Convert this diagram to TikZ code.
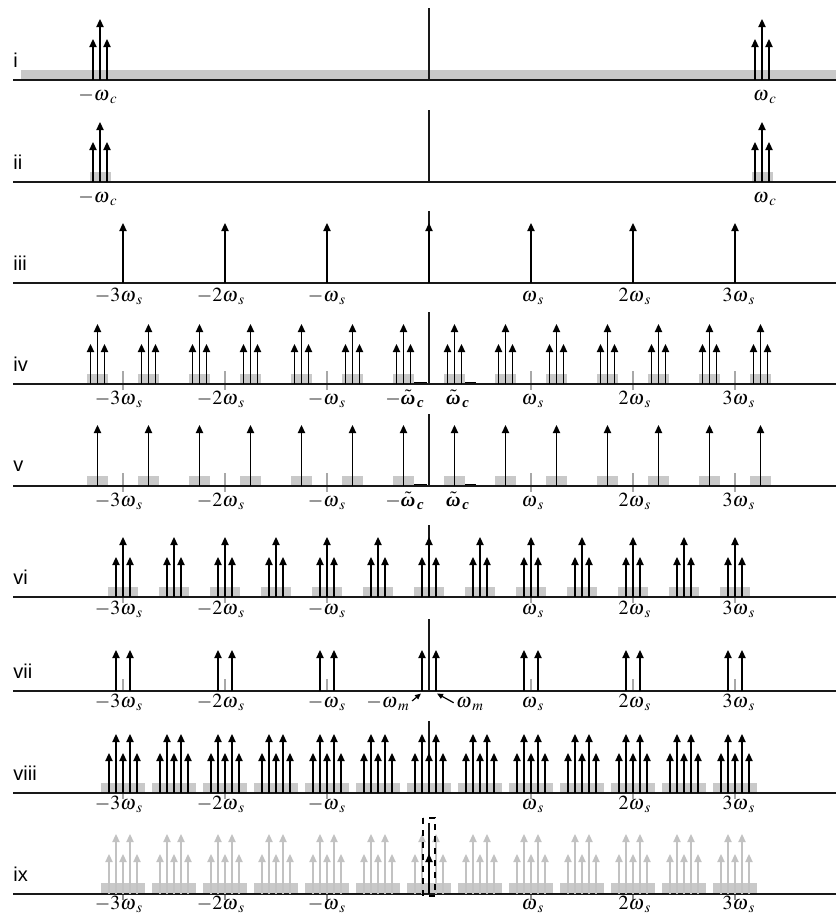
\documentclass[tikz,border=0pt]{standalone}
\usepackage{amsmath}
\usepackage{mathptmx}
\usepackage[no-math]{fontspec}
\newfontfamily\rowfont{Liberation Sans}
\newfontfamily\boldgreek{Liberation Serif}
\newcommand{\bgk}[1]{\text{\boldgreek\bfseries\itshape #1}}
\newcommand{\wsub}[1]{\omega_{\mkern3mu #1}}
\newcommand{\wtc}{\tilde{\vphantom{t}\bgk{ω}}_{\mkern2mu\bgk{c}}}
\usetikzlibrary{arrows.meta}
\definecolor{bandgray}{gray}{0.79}
\definecolor{tickgray}{gray}{0.66}
\definecolor{ghostgray}{gray}{0.76}

\begin{document}
\begin{tikzpicture}[
  x=0.5pt, y=-0.5pt,
  axisline/.style={line width=1pt, draw=black!90},
  centreline/.style={line width=1pt, draw=black!90},
  band/.style={fill=bandgray},
  tickmark/.style={draw=tickgray, line width=0.7pt},
  spike/.style={-{Triangle[length=4pt,width=3.6pt]}, line width=0.75pt},
  ghost/.style={spike, draw=ghostgray},
  pointer/.style={-{Triangle[length=3pt,width=2.6pt]}, line width=0.6pt},
  rowlbl/.style={anchor=west, inner sep=0pt, font=\rowfont\fontsize{10}{12}\selectfont},
  freqlbl/.style={anchor=base, inner sep=0pt, font=\fontsize{10}{12}\selectfont}
]
  \useasboundingbox (0,0) rectangle (836,922);

  % Row labels
  \foreach \ay/\rn in {80/i, 182/ii, 283/iii, 384/iv, 486/v, 597/vi, 691/vii, 793/viii, 894/ix}
    \node[rowlbl] (row-\rn) at (13,\ay-20) {\rn};

  % i: broadband spectrum around -wc and wc
  \fill[band] (21,70) rectangle (836,80);
  \draw[axisline] (13,80) -- (836,80);
  \draw[centreline] (429,8) -- (429,80);
  \foreach \c in {100,762} {
    \draw[spike] (\c,80) -- (\c,19);
    \draw[spike] (\c-7,80) -- (\c-7,39);
    \draw[spike] (\c+7,80) -- (\c+7,39);
  }
  \node[freqlbl] (wc-i-m) at (98,100) {$-\wsub{c}$};
  \node[freqlbl] (wc-i-p) at (765,100) {$\wsub{c}$};

  % ii: band limited
  \foreach \c in {100,762} \fill[band] (\c-10.5,172) rectangle (\c+10.5,182);
  \draw[axisline] (13,182) -- (836,182);
  \draw[centreline] (429,110) -- (429,182);
  \foreach \c in {100,762} {
    \draw[spike] (\c,182) -- (\c,122);
    \draw[spike] (\c-7,182) -- (\c-7,142);
    \draw[spike] (\c+7,182) -- (\c+7,142);
  }
  \node[freqlbl] (wc-ii-m) at (98,202) {$-\wsub{c}$};
  \node[freqlbl] (wc-ii-p) at (765,202) {$\wsub{c}$};

  % iii: sampling impulses
  \draw[axisline] (13,283) -- (836,283);
  \draw[centreline] (429,211) -- (429,283);
  \foreach \k in {-3,...,3}
    \draw[spike] (429+102*\k,283) -- (429+102*\k,223);

  % iv: sampled bandpass spectrum
  \foreach \k in {-3,...,3} \foreach \s in {-25.5,25.5}
    \fill[band] (429+102*\k+\s-10.5,374) rectangle (429+102*\k+\s+10.5,384);
  \foreach \k in {-3,-2,-1,1,2,3}
    \draw[tickmark] (429+102*\k,371) -- (429+102*\k,390);
  \draw[axisline] (13,384) -- (836,384);
  \draw[line width=0.5pt] (414,382.3) -- (427,382.3) (465,382.3) -- (476,382.3);
  \draw[centreline] (429,312) -- (429,384);
  \foreach \k in {-3,...,3} \foreach \s in {-25.5,25.5} {
    \pgfmathsetmacro\c{429+102*\k+\s}
    \draw[spike] (\c,384) -- (\c,324);
    \draw[spike] (\c-7,384) -- (\c-7,344);
    \draw[spike] (\c+7,384) -- (\c+7,344);
  }
  \node[freqlbl] (wt-iv-m) at (405,404) {$-\wtc$};
  \node[freqlbl] (wt-iv-p) at (458,404) {$\wtc$};

  % v: single lines
  \foreach \k in {-3,...,3} \foreach \s in {-25.5,25.5}
    \fill[band] (429+102*\k+\s-10.5,476) rectangle (429+102*\k+\s+10.5,486);
  \foreach \k in {-3,-2,-1,1,2,3}
    \draw[tickmark] (429+102*\k,473) -- (429+102*\k,492);
  \draw[axisline] (13,486) -- (836,486);
  \draw[line width=0.5pt] (414,484.3) -- (427,484.3) (465,484.3) -- (476,484.3);
  \draw[centreline] (429,414) -- (429,486);
  \foreach \k in {-3,...,3} \foreach \s in {-25.5,25.5}
    \draw[spike] (429+102*\k+\s,486) -- (429+102*\k+\s,425);
  \node[freqlbl] (wt-v-m) at (405,506) {$-\wtc$};
  \node[freqlbl] (wt-v-p) at (458,506) {$\wtc$};

  % vi: triplets every ws/2
  \foreach \j in {-6,...,6}
    \fill[band] (429+51*\j-15,587) rectangle (429+51*\j+15,597);
  \foreach \k in {-3,-2,-1,1,2,3}
    \draw[tickmark] (429+102*\k,585) -- (429+102*\k,603);
  \draw[axisline] (13,597) -- (836,597);
  \draw[centreline] (429,525) -- (429,597);
  \foreach \j in {-6,...,6} {
    \pgfmathsetmacro\c{429+51*\j}
    \draw[spike] (\c,597) -- (\c,537);
    \draw[spike] (\c-7,597) -- (\c-7,557);
    \draw[spike] (\c+7,597) -- (\c+7,557);
  }

  % vii: pairs at k ws +- wm
  \foreach \k in {-3,-2,-1,1,2,3}
    \draw[tickmark] (429+102*\k,679) -- (429+102*\k,691);
  \draw[axisline] (13,691) -- (836,691);
  \draw[centreline] (429,619) -- (429,691);
  \foreach \k in {-3,...,3} {
    \draw[spike] (429+102*\k-7,691) -- (429+102*\k-7,650);
    \draw[spike] (429+102*\k+7,691) -- (429+102*\k+7,650);
  }
  \node[freqlbl] (wm-m) at (388,707) {$-\wsub{m}$};
  \node[freqlbl] (wm-p) at (470,707) {$\wsub{m}$};
  \coordinate (wm-m-tip) at (421,693.5);
  \coordinate (wm-p-tip) at (437,693.5);
  \draw[pointer] ([xshift=1pt,yshift=-3pt]wm-m.north east) -- (wm-m-tip);
  \draw[pointer] ([xshift=-1pt,yshift=-3pt]wm-p.north west) -- (wm-p-tip);

  % viii: groups of five lines
  \foreach \j in {-6,...,6}
    \fill[band] (429+51*\j-22,783) rectangle (429+51*\j+22,793);
  \foreach \k in {-3,-2,-1,1,2,3}
    \draw[tickmark] (429+102*\k,781) -- (429+102*\k,799);
  \draw[axisline] (13,793) -- (836,793);
  \draw[centreline] (429,721) -- (429,793);
  \foreach \j in {-6,...,6} {
    \pgfmathsetmacro\c{429+51*\j}
    \draw[spike] (\c-7,793) -- (\c-7,734);
    \draw[spike] (\c+7,793) -- (\c+7,734);
    \draw[spike] (\c-14,793) -- (\c-14,753);
    \draw[spike] (\c,793) -- (\c,753);
    \draw[spike] (\c+14,793) -- (\c+14,753);
  }

  % ix: the one line kept
  \foreach \j in {-6,...,6}
    \fill[band] (429+51*\j-22,883) rectangle (429+51*\j+22,894);
  \foreach \k in {-3,-2,-1,1,2,3}
    \draw[draw=black!45, line width=0.7pt] (429+102*\k,882) -- (429+102*\k,900);
  \draw[axisline] (13,894) -- (836,894);
  \foreach \j in {-6,...,6} {
    \pgfmathsetmacro\c{429+51*\j}
    \draw[ghost] (\c-7,894) -- (\c-7,834);
    \draw[ghost] (\c+7,894) -- (\c+7,834);
    \draw[ghost] (\c-14,894) -- (\c-14,854);
    \draw[ghost] (\c,894) -- (\c,854);
    \draw[ghost] (\c+14,894) -- (\c+14,854);
  }
  \draw[centreline] (429,823) -- (429,894);
  \draw[spike] (429,894) -- (429,854);
  \draw[dashed, line width=0.6pt] (423,818) rectangle (435,896);

  % ws labels, rows iii to ix
  \foreach \ay/\dy in {283/18, 384/20, 486/20, 597/17, 691/16, 793/16, 894/15}
    \foreach \x/\t [count=\n] in {119/{-3\wsub{s}}, 221/{-2\wsub{s}}, 327/{-\wsub{s}},
                                  533/{\wsub{s}}, 635/{2\wsub{s}}, 739/{3\wsub{s}}}
      \node[freqlbl] (ws-\ay-\n) at (\x,\ay+\dy) {$\t$};
\end{tikzpicture}
\end{document}
